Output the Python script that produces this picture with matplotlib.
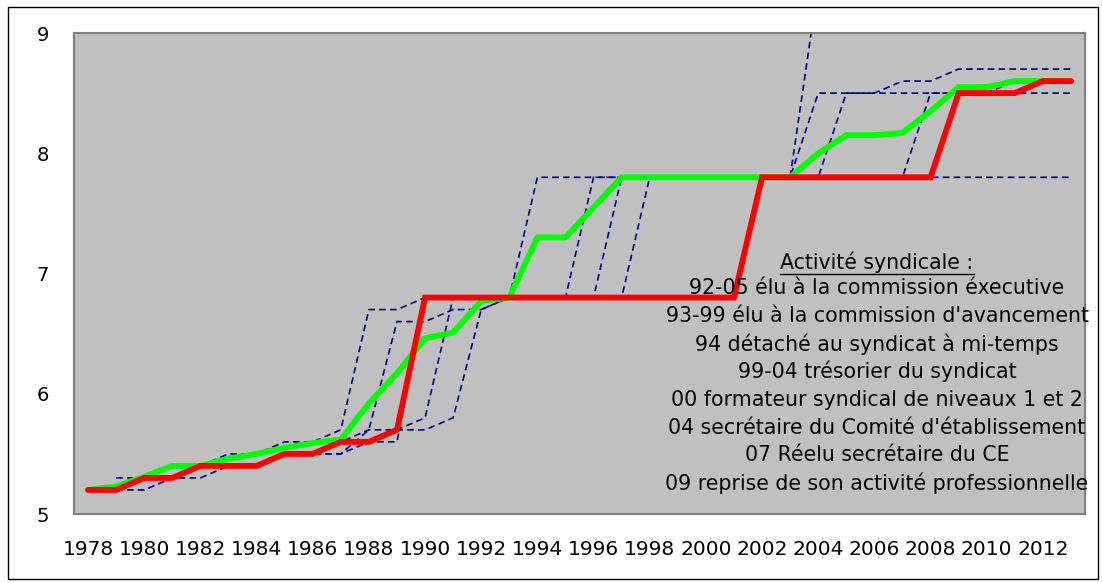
import numpy as np
import matplotlib
matplotlib.use("Agg")
import matplotlib.pyplot as plt
from matplotlib.patches import Rectangle
from matplotlib.lines import Line2D

nan = np.nan

# années 1978 -> 2013
years = list(range(1978, 2014))

# courbe rouge (parcours réel)
red = [5.2, 5.2, 5.3, 5.3, 5.4, 5.4, 5.4, 5.5, 5.5, 5.6, 5.6, 5.7,
       6.8, 6.8, 6.8, 6.8, 6.8, 6.8, 6.8, 6.8, 6.8, 6.8, 6.8, 6.8,
       7.8, 7.8, 7.8, 7.8, 7.8, 7.8, 7.8,
       8.5, 8.5, 8.5, 8.6, 8.6]

# courbe verte (moyenne)
green = [5.2, 5.23, 5.31, 5.4, 5.4, 5.46, 5.5, 5.55, 5.59, 5.62, 5.92, 6.17,
         6.46, 6.51, 6.77, 6.8, 7.3, 7.3, 7.55, 7.8,
         7.8, 7.8, 7.8, 7.8, 7.8, 7.8,
         8.0, 8.15, 8.15, 8.17, 8.35, 8.55, 8.55, 8.6, 8.6, 8.6]

# parcours de comparaison (pointillés)
dash_a = [nan, 5.3, 5.3, 5.4, 5.4, 5.5, 5.5, 5.6, 5.6, 5.7, 6.7, 6.7,
          6.8, 6.8, 6.8, 6.8,
          7.8, 7.8, 7.8, 7.8, 7.8, 7.8, 7.8, 7.8, 7.8, 7.8,
          9.4, 9.4, 9.4, 9.4, 9.4, 9.4, 9.4, 9.4, 9.4, 9.4]
dash_b = [nan, 5.2, 5.2, 5.3, 5.3, 5.4, 5.4, 5.5, 5.5, 5.5, 5.7, 6.6,
          6.6, 6.7, 6.7, 6.8, 6.8, 6.8,
          7.8, 7.8, 7.8, 7.8, 7.8, 7.8, 7.8, 7.8,
          8.5, 8.5, 8.5, 8.6, 8.6, 8.7, 8.7, 8.7, 8.7, 8.7]
dash_c = [nan, 5.2, 5.3, 5.3, 5.4, 5.4, 5.4, 5.5, 5.5, 5.6, 5.6, 5.7,
          5.8, 6.8, 6.8, 6.8, 6.8, 6.8, 6.8, 6.8, 6.8, 6.8, 6.8, 6.8,
          7.8, 7.8, 7.8,
          8.5, 8.5, 8.5, 8.5, 8.5, 8.5, 8.5, 8.5, 8.5]
dash_d = [nan, 5.2, 5.3, 5.3, 5.4, 5.4, 5.4, 5.5, 5.5, 5.6,
          5.7, 5.7, 5.7, 5.8, 6.7, 6.8, 6.8, 6.8, 6.8,
          7.8, 7.8, 7.8, 7.8, 7.8, 7.8, 7.8, 7.8, 7.8, 7.8, 7.8,
          8.5, 8.5, 8.5, 8.6, 8.6, 8.6]
dash_e = [nan, 5.2, 5.3, 5.3, 5.4, 5.4, 5.4, 5.5, 5.5, 5.5, 5.6, 5.6,
          6.8, 6.8, 6.8, 6.8, 6.8, 6.8, 6.8, 6.8,
          7.8, 7.8, 7.8, 7.8, 7.8, 7.8, 7.8, 7.8, 7.8, 7.8, 7.8, 7.8,
          7.8, 7.8, 7.8, 7.8]

notes_title = "Activité syndicale :"
notes = ["92-05 élu à la commission éxecutive",
         "93-99 élu à la commission d'avancement",
         "94 détaché au syndicat à mi-temps",
         "99-04 trésorier du syndicat",
         "00 formateur syndical de niveaux 1 et 2",
         "04 secrétaire du Comité d'établissement",
         "07 Réelu secrétaire du CE",
         "09 reprise de son activité professionnelle"]

W, H = 1102, 583
fig = plt.figure(figsize=(W / 100, H / 100), dpi=100)
ax = fig.add_axes([74 / W, 1 - 514 / H, (1085 - 74) / W, (514 - 33) / H])
ax.set_facecolor("#C0C0C0")

x = np.arange(len(years))
for serie in [dash_a, dash_b, dash_c, dash_d, dash_e]:
    ax.plot(x, serie, color="#000080", lw=1.2, ls=(0, (4, 2.5)), zorder=2)
ax.plot(x, green, color="#00FF00", lw=4.2, zorder=3, solid_capstyle="round")
ax.plot(x, red, color="#FF0000", lw=4.2, zorder=4, solid_capstyle="round",
        solid_joinstyle="miter")

ax.set_xlim(-0.5, len(years) - 0.5)
ax.set_ylim(5, 9)
ax.set_yticks([5, 6, 7, 8, 9])
ax.set_xticks(x[::2])
ax.set_xticklabels([str(y) for y in years[::2]], fontsize=14.5)
ax.tick_params(axis="both", length=0)
ax.tick_params(axis="y", pad=18, labelsize=14)
ax.tick_params(axis="x", pad=19)
for s in ax.spines.values():
    s.set_color("#808080")
    s.set_linewidth(1.5)

# texte d'annotation
cx = 877 / W
t = fig.text(cx, 1 - 262 / H, notes_title, ha="center", va="center", fontsize=14.8)
for i, line in enumerate(notes):
    fig.text(cx, 1 - (288 + i * 27.9) / H, line, ha="center", va="center",
             fontsize=14.8)

fig.canvas.draw()
bb = t.get_window_extent().transformed(fig.transFigure.inverted())
fig.add_artist(Line2D([bb.x0, bb.x1], [bb.y0 - 0.002, bb.y0 - 0.002],
                      color="black", lw=1, transform=fig.transFigure))

# cadre extérieur
fig.add_artist(Rectangle((8 / W, 1 - 579 / H), (1098 - 8) / W, (579 - 7) / H,
                         transform=fig.transFigure, fill=False,
                         edgecolor="black", lw=1))

fig.savefig("out.png", dpi=100)
